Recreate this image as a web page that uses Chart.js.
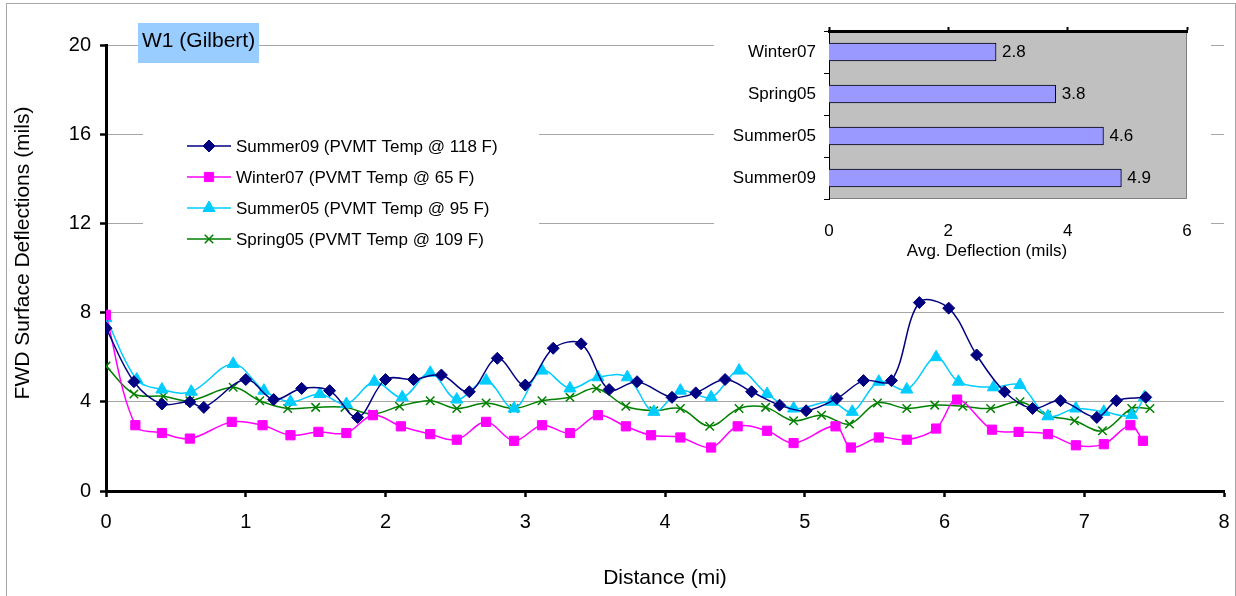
<!DOCTYPE html>
<html>
<head>
<meta charset="utf-8">
<script src="https://cdn.jsdelivr.net/npm/chart.js@4.4.1/dist/chart.umd.min.js"></script>
<style>
  html, body { margin: 0; padding: 0; background: #fff; }
  #wrap { position: relative; width: 1236px; height: 596px; overflow: hidden; }
  #frame { position: absolute; left: 6px; top: 3px; width: 1228px; height: 640px; border: 1px solid #a6a6a6; }
  #main { position: absolute; left: 0; top: 0; }
  #inset { position: absolute; left: 714px; top: 18px; background: #fff; }
</style>
</head>
<body>
<div id="wrap">
  <div id="frame"></div>
  <canvas id="main" width="1236" height="596"></canvas>
  <canvas id="inset" width="497" height="252"></canvas>
</div>
<script>
// FWD deflection profiles (distance in mi, deflection in mils)
const summer09X = [0, 0.2, 0.4, 0.6, 0.7, 1.0, 1.2, 1.4, 1.6, 1.8, 2.0, 2.2, 2.4, 2.6, 2.8, 3.0, 3.2, 3.4, 3.6, 3.8, 4.05, 4.22, 4.43, 4.62, 4.82, 5.01, 5.23, 5.42, 5.62, 5.82, 6.03, 6.23, 6.43, 6.63, 6.83, 7.09, 7.23, 7.44];
const summer09Y = [7.3, 4.9, 3.9, 4.0, 3.75, 5.0, 4.1, 4.6, 4.5, 3.3, 5.0, 5.0, 5.2, 4.45, 5.95, 4.75, 6.4, 6.6, 4.55, 4.9, 4.2, 4.4, 5.0, 4.45, 3.85, 3.6, 4.15, 4.95, 4.95, 8.45, 8.2, 6.1, 4.45, 3.7, 4.05, 3.3, 4.05, 4.2];

const winter07X = [0, 0.21, 0.4, 0.6, 0.9, 1.12, 1.32, 1.52, 1.72, 1.91, 2.11, 2.32, 2.51, 2.72, 2.92, 3.12, 3.32, 3.52, 3.72, 3.9, 4.11, 4.33, 4.52, 4.73, 4.92, 5.22, 5.33, 5.53, 5.73, 5.94, 6.09, 6.34, 6.53, 6.74, 6.94, 7.14, 7.33, 7.42];
const winter07Y = [7.9, 2.95, 2.6, 2.35, 3.1, 2.95, 2.5, 2.65, 2.6, 3.4, 2.9, 2.55, 2.3, 3.1, 2.25, 2.95, 2.6, 3.4, 2.9, 2.5, 2.4, 1.95, 2.9, 2.7, 2.15, 2.9, 1.95, 2.4, 2.3, 2.8, 4.1, 2.75, 2.65, 2.55, 2.05, 2.1, 2.95, 2.25];

const summer05X = [0, 0.22, 0.4, 0.61, 0.91, 1.13, 1.32, 1.53, 1.72, 1.92, 2.12, 2.32, 2.51, 2.72, 2.92, 3.12, 3.32, 3.52, 3.73, 3.92, 4.11, 4.33, 4.53, 4.73, 4.92, 5.19, 5.34, 5.53, 5.73, 5.94, 6.1, 6.35, 6.54, 6.74, 6.94, 7.14, 7.34, 7.43];
const summer05Y = [7.75, 5.0, 4.55, 4.45, 5.7, 4.5, 4.0, 4.35, 3.9, 4.9, 4.2, 5.3, 4.1, 4.95, 3.7, 5.4, 4.6, 5.1, 5.1, 3.55, 4.5, 4.2, 5.4, 4.35, 3.7, 4.0, 3.55, 4.9, 4.55, 6.0, 4.9, 4.65, 4.75, 3.35, 3.7, 3.55, 3.4, 4.2];

const spring05X = [0, 0.2, 0.41, 0.6, 0.91, 1.1, 1.3, 1.5, 1.71, 1.91, 2.1, 2.32, 2.51, 2.72, 2.92, 3.12, 3.32, 3.51, 3.72, 3.92, 4.11, 4.32, 4.53, 4.72, 4.92, 5.12, 5.32, 5.52, 5.73, 5.93, 6.13, 6.33, 6.54, 6.73, 6.93, 7.13, 7.34, 7.47];
const spring05Y = [5.6, 4.35, 4.25, 4.05, 4.65, 4.05, 3.7, 3.75, 3.75, 3.45, 3.8, 4.05, 3.7, 3.95, 3.7, 4.05, 4.2, 4.6, 3.8, 3.6, 3.7, 2.9, 3.7, 3.75, 3.15, 3.4, 3.0, 3.95, 3.7, 3.85, 3.8, 3.7, 4.0, 3.4, 3.15, 2.7, 3.7, 3.7];

// inset: average deflection per survey
const avgLabels = ["Winter07", "Spring05", "Summer05", "Summer09"];
const avgValues = [2.8, 3.8, 4.6, 4.9];

const FONT = '"Liberation Sans", Arial, sans-serif';
Chart.defaults.font.family = FONT;
Chart.defaults.color = "#000";

function pts(xs, ys) {
  return xs.map(function (x, i) { return { x: x, y: ys[i] }; });
}

function series(label, xs, ys, color, style, radius, pbw) {
  return {
    label: label,
    data: pts(xs, ys),
    showLine: true,
    borderColor: color,
    backgroundColor: color,
    borderWidth: 1.5,
    pointStyle: style,
    pointRadius: radius,
    pointBorderWidth: pbw,
    pointBorderColor: color,
    pointBackgroundColor: color,
    tension: 0.35,
  };
}

// legend box, site label and axis titles drawn over the plot
const overlay = {
  id: "overlay",
  afterDraw(chart) {
    const ctx = chart.ctx;
    ctx.save();
    ctx.fillStyle = "#fff";
    ctx.fillRect(143, 100, 396, 162);
    ctx.textBaseline = "middle";
    ctx.textAlign = "left";
    chart.data.datasets.forEach(function (ds, i) {
      const y = 146 + i * 31;
      ctx.strokeStyle = ds.borderColor;
      ctx.lineWidth = ds.borderWidth;
      ctx.beginPath();
      ctx.moveTo(187, y);
      ctx.lineTo(231, y);
      ctx.stroke();
      ctx.fillStyle = ds.backgroundColor;
      ctx.lineWidth = ds.pointBorderWidth;
      Chart.helpers.drawPoint(ctx, { pointStyle: ds.pointStyle, radius: ds.pointRadius, rotation: 0, borderWidth: ds.pointBorderWidth }, 209, y);
      ctx.fillStyle = "#000";
      ctx.font = "17px " + FONT;
      ctx.fillText(ds.label, 236, y + 1);
    });

    ctx.fillStyle = "#99ccff";
    ctx.fillRect(138, 23, 121, 40);
    ctx.fillStyle = "#000";
    ctx.font = "21px " + FONT;
    ctx.fillText("W1 (Gilbert)", 142, 41);

    ctx.textAlign = "center";
    ctx.fillText("Distance (mi)", 665, 578);
    ctx.translate(23, 253);
    ctx.rotate(-Math.PI / 2);
    ctx.fillText("FWD Surface Deflections (mils)", 0, 0);
    ctx.restore();
  },
};

new Chart(document.getElementById("main"), {
  type: "scatter",
  data: {
    datasets: [
      series("Summer09 (PVMT Temp @ 118 F)", summer09X, summer09Y, "#000080", "rectRot", 6, 1),
      series("Winter07 (PVMT Temp @ 65 F)", winter07X, winter07Y, "#ff00ff", "rect", 6.5, 1),
      series("Summer05 (PVMT Temp @ 95 F)", summer05X, summer05Y, "#00ccff", "triangle", 7, 1),
      series("Spring05 (PVMT Temp @ 109 F)", spring05X, spring05Y, "#008000", "crossRot", 6, 1.5),
    ],
  },
  options: {
    responsive: false,
    animation: false,
    layout: { autoPadding: false, padding: { top: 45, right: 12, left: 0, bottom: 0 } },
    plugins: { legend: { display: false }, tooltip: { enabled: false } },
    scales: {
      x: {
        type: "linear",
        min: 0,
        max: 8,
        ticks: { stepSize: 1, font: { size: 20 }, padding: 13 },
        grid: { drawOnChartArea: false, tickLength: 6, tickColor: "#000", tickWidth: 2.5 },
        border: { color: "#000", width: 3 },
        afterFit(scale) {
          scale.height = 105;
          scale.paddingLeft = 0;
          scale.paddingRight = 0;
        },
      },
      y: {
        min: 0,
        max: 20,
        ticks: { stepSize: 4, font: { size: 20 }, padding: 9 },
        grid: { color: "#a6a6a6", lineWidth: 1, tickLength: 6, tickColor: "#000", tickWidth: 2.5 },
        border: { color: "#000", width: 3 },
        afterFit(scale) { scale.width = 106; },
      },
    },
  },
  plugins: [overlay],
});

// inset bar chart
const insetDeco = {
  id: "insetDeco",
  beforeDraw(chart) {
    const a = chart.chartArea;
    const ctx = chart.ctx;
    ctx.save();
    ctx.fillStyle = "#c0c0c0";
    ctx.fillRect(a.left, a.top, a.right - a.left, a.bottom - a.top);
    ctx.strokeStyle = "#808080";
    ctx.lineWidth = 1;
    ctx.beginPath();
    ctx.moveTo(a.left, a.bottom - 0.5);
    ctx.lineTo(a.right - 0.5, a.bottom - 0.5);
    ctx.lineTo(a.right - 0.5, a.top);
    ctx.stroke();
    ctx.restore();
  },
  afterDatasetsDraw(chart) {
    const ctx = chart.ctx;
    const meta = chart.getDatasetMeta(0);
    ctx.save();
    ctx.fillStyle = "#000";
    ctx.font = "17px " + FONT;
    ctx.textBaseline = "middle";
    ctx.textAlign = "left";
    meta.data.forEach(function (bar, i) {
      ctx.fillText(avgValues[i].toFixed(1), bar.x + 6, bar.y);
    });
    ctx.textAlign = "center";
    ctx.fillText("Avg. Deflection (mils)", 273, 233);
    ctx.restore();
  },
};

new Chart(document.getElementById("inset"), {
  type: "bar",
  data: {
    labels: avgLabels,
    datasets: [{
      data: avgValues,
      backgroundColor: "#9999ff",
      borderColor: "#000",
      borderWidth: 1,
      barThickness: 18,
      xAxisID: "x",
    }],
  },
  options: {
    indexAxis: "y",
    responsive: false,
    animation: false,
    layout: { autoPadding: false, padding: { top: 0, right: 24, left: 0, bottom: 0 } },
    plugins: { legend: { display: false }, tooltip: { enabled: false } },
    scales: {
      x: {
        position: "bottom",
        min: 0,
        max: 6,
        ticks: { stepSize: 2, font: { size: 17 }, padding: 22 },
        grid: { display: false, drawTicks: false },
        border: { display: false },
        afterFit(scale) {
          scale.height = 71;
          scale.paddingLeft = 0;
          scale.paddingRight = 0;
        },
      },
      x2: {
        position: "top",
        min: 0,
        max: 6,
        ticks: { stepSize: 2, display: false },
        grid: { drawOnChartArea: false, tickLength: 4, tickColor: "#000", tickWidth: 2 },
        border: { color: "#000", width: 3 },
        afterFit(scale) { scale.height = 13; },
      },
      y: {
        ticks: { font: { size: 17 }, padding: 8 },
        grid: { drawOnChartArea: false, offset: true, tickLength: 5, tickColor: "#000", tickWidth: 1 },
        border: { color: "#000", width: 1 },
        afterFit(scale) {
          scale.width = 115;
          scale.paddingTop = 0;
          scale.paddingBottom = 0;
        },
      },
    },
  },
  plugins: [insetDeco],
});
</script>
</body>
</html>
